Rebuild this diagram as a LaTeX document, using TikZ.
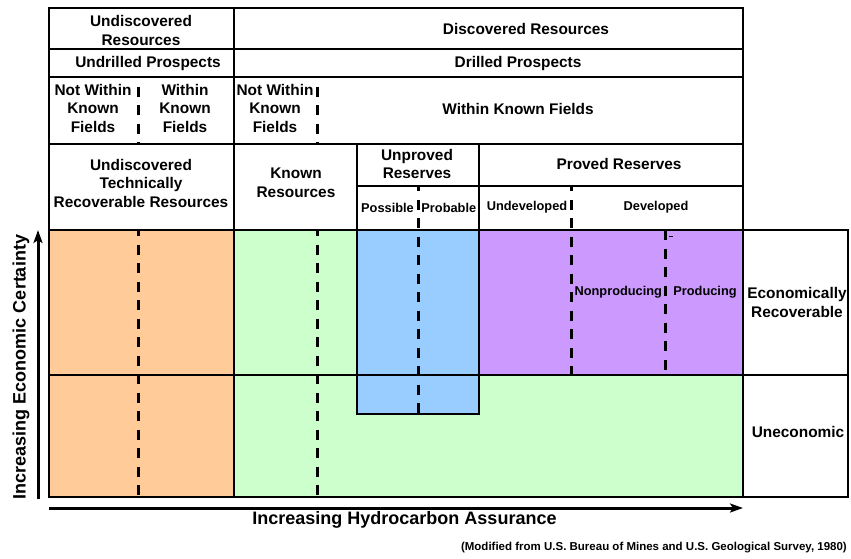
\documentclass[tikz,border=0pt]{standalone}
\usepackage{fontspec}
\setmainfont{Liberation Sans}
\usetikzlibrary{arrows.meta}
\definecolor{orangefill}{HTML}{FFCC99}
\definecolor{greenfill}{HTML}{CCFFCC}
\definecolor{bluefill}{HTML}{99CCFF}
\definecolor{purplefill}{HTML}{CC99FF}
\begin{document}
\begin{tikzpicture}[x=1pt,y=-1pt,
  frame/.style={line width=2.7pt},
  dashline/.style={line width=3pt, dash pattern=on 10pt off 8.5pt},
  axis/.style={line width=3pt, -{Stealth[length=13pt,width=9pt,inset=3pt]}},
  hdr/.style={font=\bfseries\fontsize{15.4}{18.5}\selectfont, align=center, inner sep=0pt},
  sml/.style={font=\bfseries\fontsize{12.8}{15}\selectfont, inner sep=0pt},
  axlabel/.style={font=\bfseries\fontsize{18}{21}\selectfont, inner sep=0pt},
  src/.style={font=\bfseries\fontsize{11.5}{13}\selectfont, inner sep=0pt}
]
\useasboundingbox (0,0) rectangle (851,558);
% fills
\fill[orangefill] (49,230) rectangle (234,497);
\fill[greenfill] (234,230) rectangle (743,497);
\fill[bluefill] (357,230) rectangle (479,414);
\fill[purplefill] (479,230) rectangle (743,375);
% dashed lines
\draw[dashline, dash phase=9pt] (138,77) -- (138,144);
\draw[dashline, dash phase=4pt] (138,230) -- (138,497);
\draw[dashline, dash phase=9pt] (317,77) -- (317,144);
\draw[dashline, dash phase=4pt] (317,230) -- (317,497);
\draw[dashline, dash phase=5pt] (418,186) -- (418,414);
\draw[dashline, dash phase=5pt] (571,186) -- (571,375);
\draw[dashline] (665,230) -- (665,375);
\draw[line width=1pt] (669,236) -- (673,236);
% solid frame lines
\draw[frame] (49,8) rectangle (743,230);
\draw[frame] (49,49) -- (743,49);
\draw[frame] (49,77) -- (743,77);
\draw[frame] (49,144) -- (743,144);
\draw[frame] (357,186) -- (743,186);
\draw[frame] (234,8) -- (234,497);
\draw[frame] (357,144) -- (357,230);
\draw[frame] (479,144) -- (479,230);
\draw[frame] (49,230) rectangle (743,497);
\draw[frame] (49,375) -- (848,375);
\draw[frame] (743,230) rectangle (848,497);
\draw[frame] (357,230) -- (357,414) -- (479,414) -- (479,230);
% axes
\coordinate (ybot) at (38,499);
\coordinate (ytop) at (38,230);
\coordinate (xleft) at (49,508);
\coordinate (xright) at (743,508);
\draw[axis] (ybot) -- (ytop);
\draw[axis] (xleft) -- (xright);
% header texts
\node[hdr] (undisc) at (141,30.5) {Undiscovered\\Resources};
\node[hdr] (disc) at (526,29) {Discovered Resources};
\node[hdr] (undrilled) at (148,63.5) {Undrilled Prospects};
\node[hdr] (drilled) at (518,64) {Drilled Prospects};
\node[hdr] (nwk1) at (93,108.3) {Not Within\\Known\\Fields};
\node[hdr] (wk1) at (185,108.3) {Within\\Known\\Fields};
\node[hdr] (nwk2) at (275,108.3) {Not Within\\Known\\Fields};
\node[hdr] (wkf) at (518,108.5) {Within Known Fields};
\node[hdr] (utrr) at (141,183) {Undiscovered\\Technically\\Recoverable Resources};
\node[hdr] (known) at (296,183) {Known\\Resources};
\node[hdr] (unproved) at (417,164) {Unproved\\Reserves};
\node[hdr] (proved) at (619,164) {Proved Reserves};
\node[sml] (possible) at (387.5,207.5) {Possible};
\node[sml] (probable) at (448.8,207.5) {Probable};
\node[sml] (undev) at (527,207.5) {Undeveloped};
\node[sml] (dev) at (656,207.5) {Developed};
\node[sml] (nonprod) at (618.3,292) {Nonproducing};
\node[sml] (prod) at (705,292) {Producing};
\node[hdr] (econ) at (797,302.5) {Economically\\Recoverable};
\node[hdr] (unecon) at (798,432) {Uneconomic};
% axis labels
\node[axlabel, rotate=90] (ylabel) at (21,367) {Increasing Economic Certainty};
\node[axlabel] (xlabel) at (404.5,520) {Increasing Hydrocarbon Assurance};
\node[src, anchor=east] (source) at (847,548) {(Modified from U.S. Bureau of Mines and U.S. Geological Survey, 1980)};
\end{tikzpicture}
\end{document}
